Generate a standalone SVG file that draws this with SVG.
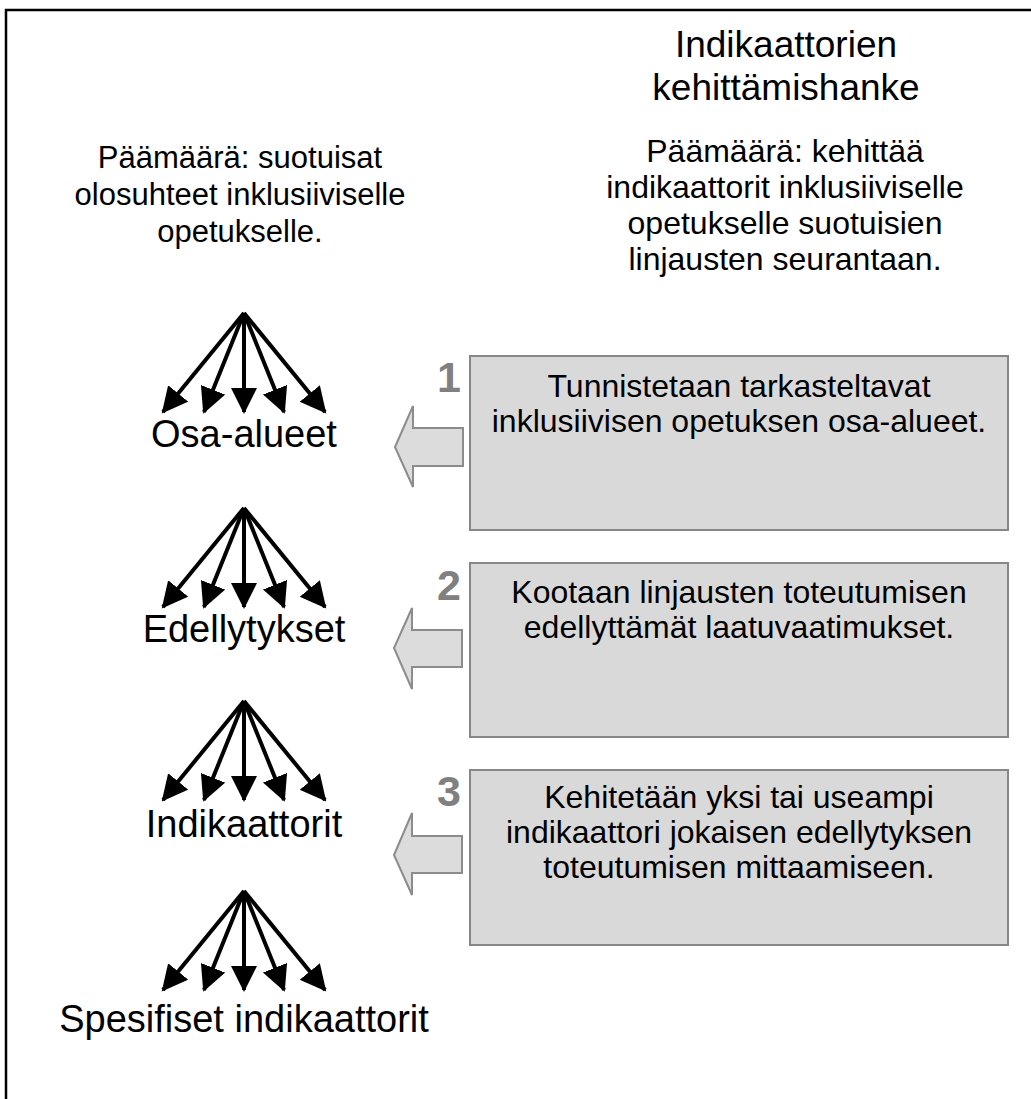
<svg xmlns="http://www.w3.org/2000/svg" width="1031" height="1099" viewBox="0 0 1031 1099">
<defs>
<style>
text{font-family:"Liberation Sans",Arial,sans-serif;fill:#000}
.t32{font-size:32px;text-anchor:middle}
.t31{font-size:31px;text-anchor:middle}
.lbl{font-size:38px;text-anchor:middle}
.title{font-size:37px;text-anchor:middle}
.num{font-size:43px;font-weight:bold;fill:#808080;text-anchor:end}
.box{fill:#d9d9d9;stroke:#878787;stroke-width:2}
.barrow{fill:#dcdcdc;stroke:#8c8c8c;stroke-width:2}
.fan line{stroke:#000;stroke-width:4;marker-end:url(#ah)}
</style>
<marker id="ah" markerUnits="userSpaceOnUse" markerWidth="30" markerHeight="30" refX="24" refY="13" orient="auto">
<path d="M0,0 L26,13 L0,26 Z" fill="#000"/>
</marker>
</defs>
<rect x="6" y="10" width="1040" height="1100" fill="#fff" stroke="#000" stroke-width="2.5"/>
<g id="title">
<text class="title" x="786" y="57">Indikaattorien</text>
<text class="title" x="786" y="100">kehittämishanke</text>
</g>
<g id="goal-right">
<text class="t32" x="785" y="162">Päämäärä: kehittää</text>
<text class="t32" x="785" y="198">indikaattorit inklusiiviselle</text>
<text class="t32" x="785" y="234">opetukselle suotuisien</text>
<text class="t32" x="785" y="270">linjausten seurantaan.</text>
</g>
<g id="goal-left">
<text class="t31" x="240" y="168">Päämäärä: suotuisat</text>
<text class="t31" x="240" y="205">olosuhteet inklusiiviselle</text>
<text class="t31" x="240" y="242">opetukselle.</text>
</g>
<g id="connectors">
<g class="fan">
<line x1="244" y1="313" x2="163" y2="412"/><line x1="244" y1="313" x2="204" y2="412"/><line x1="244" y1="313" x2="244" y2="412"/><line x1="244" y1="313" x2="284" y2="412"/><line x1="244" y1="313" x2="325" y2="412"/>
</g>
<g class="fan" transform="translate(0,195)">
<line x1="244" y1="313" x2="163" y2="412"/><line x1="244" y1="313" x2="204" y2="412"/><line x1="244" y1="313" x2="244" y2="412"/><line x1="244" y1="313" x2="284" y2="412"/><line x1="244" y1="313" x2="325" y2="412"/>
</g>
<g class="fan" transform="translate(0,388)">
<line x1="244" y1="313" x2="163" y2="412"/><line x1="244" y1="313" x2="204" y2="412"/><line x1="244" y1="313" x2="244" y2="412"/><line x1="244" y1="313" x2="284" y2="412"/><line x1="244" y1="313" x2="325" y2="412"/>
</g>
<g class="fan" transform="translate(0,578)">
<line x1="244" y1="313" x2="163" y2="412"/><line x1="244" y1="313" x2="204" y2="412"/><line x1="244" y1="313" x2="244" y2="412"/><line x1="244" y1="313" x2="284" y2="412"/><line x1="244" y1="313" x2="325" y2="412"/>
</g>
<path class="barrow" d="M463,428 L413,428 L413,406 L395,447 L413,487 L413,466 L463,466 Z"/>
<path class="barrow" d="M462,630 L412,630 L412,608 L394,648 L412,689 L412,667 L462,667 Z"/>
<path class="barrow" d="M462,836 L412,836 L412,813 L394,855 L412,895 L412,873 L462,873 Z"/>
</g>
<g id="level-osa-alueet"><text class="lbl" x="244" y="447">Osa-alueet</text></g>
<g id="level-edellytykset"><text class="lbl" x="244" y="642">Edellytykset</text></g>
<g id="level-indikaattorit"><text class="lbl" x="244" y="837">Indikaattorit</text></g>
<g id="level-spesifiset"><text class="lbl" x="244" y="1032">Spesifiset indikaattorit</text></g>
<g id="step1">
<rect class="box" x="470" y="356" width="538" height="174"/>
<text class="num" x="461" y="392">1</text>
<text class="t32" x="739" y="397">Tunnistetaan tarkasteltavat</text>
<text class="t32" x="739" y="432">inklusiivisen opetuksen osa-alueet.</text>
</g>
<g id="step2">
<rect class="box" x="470" y="563" width="538" height="174"/>
<text class="num" x="461" y="600">2</text>
<text class="t32" x="739" y="603">Kootaan linjausten toteutumisen</text>
<text class="t32" x="739" y="638">edellyttämät laatuvaatimukset.</text>
</g>
<g id="step3">
<rect class="box" x="470" y="770" width="538" height="175"/>
<text class="num" x="461" y="806">3</text>
<text class="t32" x="739" y="808">Kehitetään yksi tai useampi</text>
<text class="t32" x="739" y="843">indikaattori jokaisen edellytyksen</text>
<text class="t32" x="739" y="878">toteutumisen mittaamiseen.</text>
</g>
</svg>
